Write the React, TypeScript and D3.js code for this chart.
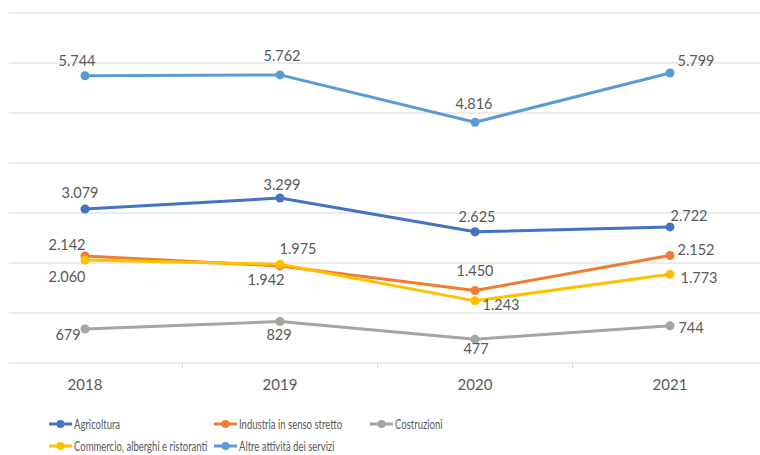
import React from "react";
import * as d3 from "d3";

const years = ["2018", "2019", "2020", "2021"];
const seriesNames = [
  "Agricoltura",
  "Industria in senso stretto",
  "Costruzioni",
  "Commercio, alberghi e ristoranti",
  "Altre attività dei servizi",
];
const agricoltura = [3079, 3299, 2625, 2722];
const industria = [2142, 1942, 1450, 2152];
const costruzioni = [679, 829, 477, 744];
const commercio = [2060, 1975, 1243, 1773];
const altre = [5744, 5762, 4816, 5799];
const yTicks = [0, 1000, 2000, 3000, 4000, 5000, 6000, 7000];

const colors = ["#4472C4", "#ED7D31", "#A5A5A5", "#FFC000", "#5B9BD5"];
// label offsets (dx, dy) from each point, per series
const labelOffsets = [
  [[-5, -17], [2, -14], [2, -15], [19, -11]],
  [[-18, -11], [-14, 14], [0, -20], [26, -6]],
  [[-17, 5], [-1, 13], [1, 9], [21, 2]],
  [[-18, 16], [18, -16], [26, 4], [29, 3]],
  [[-8, -15], [2, -19], [-1, -19], [26, -13]],
];

const fmt = (v: number) => d3.format(",")(v).replace(/,/g, ".");

export default function App() {
  const W = 760, H = 455;
  const x = d3.scalePoint<string>().domain(years).range([85, 670]);
  const y = d3.scaleLinear().domain([0, 7000]).range([363, 13]);
  const data = [agricoltura, industria, costruzioni, commercio, altre];
  const line = d3
    .line<number>()
    .x((_, i) => x(years[i]) as number)
    .y((d) => y(d));
  const step = x.step();
  const tickXs = years.slice(0, -1).map((yr) => (x(yr) as number) + step / 2);
  const font = "Lato, 'Open Sans', sans-serif";
  const legend = [
    { i: 0, lx: 49, ly: 424 },
    { i: 1, lx: 214, ly: 424 },
    { i: 2, lx: 370, ly: 424 },
    { i: 3, lx: 49, ly: 446 },
    { i: 4, lx: 214, ly: 446 },
  ];
  return (
    <svg
      width={W}
      height={H}
      style={{ position: "absolute", left: 0, top: 0, background: "#fff" }}
      fontFamily={font}
    >
      {yTicks.map((t) => (
        <line key={t} x1={9} x2={760} y1={y(t)} y2={y(t)} stroke="#D9D9D9" strokeWidth={1} />
      ))}
      {tickXs.map((tx, i) => (
        <line key={i} x1={tx} x2={tx} y1={363} y2={368} stroke="#D9D9D9" strokeWidth={1} />
      ))}
      {years.map((yr) => (
        <text key={yr} x={x(yr)} y={390} textAnchor="middle" fontSize={15} fill="#595959">
          {yr}
        </text>
      ))}
      {data.map((s, si) => (
        <g key={si}>
          <path d={line(s) || ""} fill="none" stroke={colors[si]} strokeWidth={3} strokeLinejoin="round" />
          {s.map((v, i) => (
            <circle key={i} cx={x(years[i])} cy={y(v)} r={4.5} fill={colors[si]} />
          ))}
        </g>
      ))}
      {data.map((s, si) =>
        s.map((v, i) => (
          <text
            key={si + "-" + i}
            x={(x(years[i]) as number) + labelOffsets[si][i][0]}
            y={y(v) + labelOffsets[si][i][1]}
            textAnchor="middle"
            dominantBaseline="central"
            fontSize={14.5}
            fill="#595959"
          >
            {fmt(v)}
          </text>
        ))
      )}
      {legend.map(({ i, lx, ly }) => (
        <g key={i}>
          <line x1={lx} x2={lx + 23} y1={ly} y2={ly} stroke={colors[i]} strokeWidth={3} />
          <circle cx={lx + 11.5} cy={ly} r={4} fill={colors[i]} />
          <text
            transform={`translate(${lx + 25},${ly}) scale(0.68,1)`}
            dominantBaseline="central"
            fontSize={14}
            fill="#595959"
          >
            {seriesNames[i]}
          </text>
        </g>
      ))}
    </svg>
  );
}
